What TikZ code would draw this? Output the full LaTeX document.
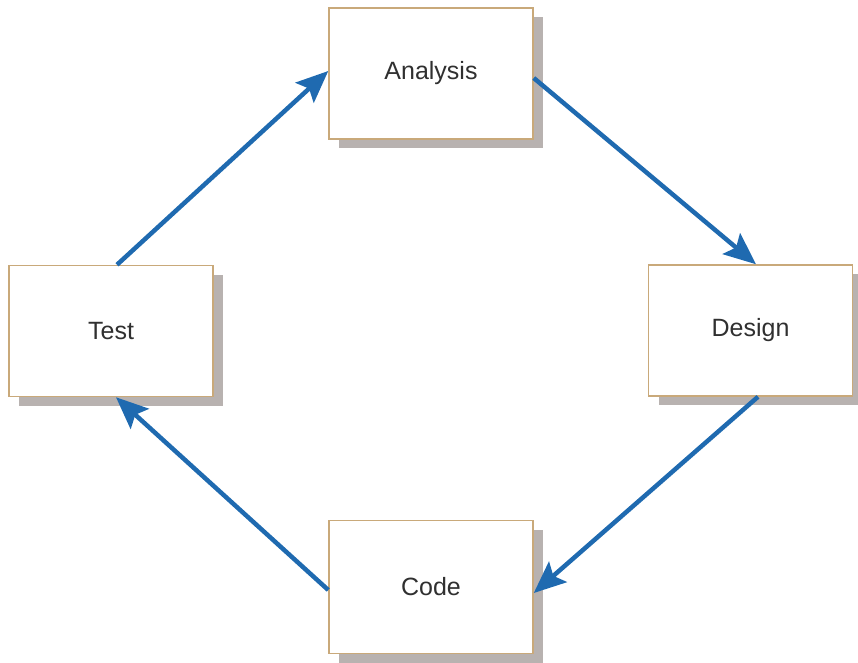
\documentclass[tikz,border=0pt]{standalone}
\usepackage{fontspec}
\setmainfont{Liberation Sans}
\usetikzlibrary{arrows.meta,shadows}
\definecolor{boxborder}{HTML}{C9A97A}
\definecolor{shadowgrey}{HTML}{B8B2B0}
\definecolor{arrowblue}{HTML}{1F6AB0}
\definecolor{txt}{HTML}{303030}
\begin{document}
\begin{tikzpicture}[x=1pt,y=-1pt,
  stagebox/.style={draw=boxborder, line width=1.5pt, fill=white,
    minimum width=204pt, minimum height=131pt, inner sep=0pt,
    font=\fontsize{25}{29}\selectfont, text=txt,
    general shadow={fill=shadowgrey, shadow xshift=10pt, shadow yshift=-9pt}},
  flow/.style={draw=arrowblue, line width=4.5pt,
    -{Stealth[length=32pt,width=27pt,inset=6pt]}}]
\useasboundingbox (0,0) rectangle (858,662);
\node[stagebox] (ana) at (431,73.5) {Analysis};
\node[stagebox] (des) at (750.5,330.5) {Design};
\node[stagebox] (tst) at (111,331) {Test};
\node[stagebox, minimum height=133pt] (cod) at (431,587) {Code};
\draw[flow] ([xshift=6pt]tst.north) -- ([yshift=2.5pt]ana.west);
\draw[flow] ([yshift=-4.5pt]ana.east) -- ([xshift=5.5pt]des.north);
\draw[flow] ([xshift=7.5pt]des.south) -- ([yshift=-6pt]cod.east);
\draw[flow] ([yshift=-3pt]cod.west) -- ([xshift=5pt]tst.south);
\end{tikzpicture}
\end{document}
